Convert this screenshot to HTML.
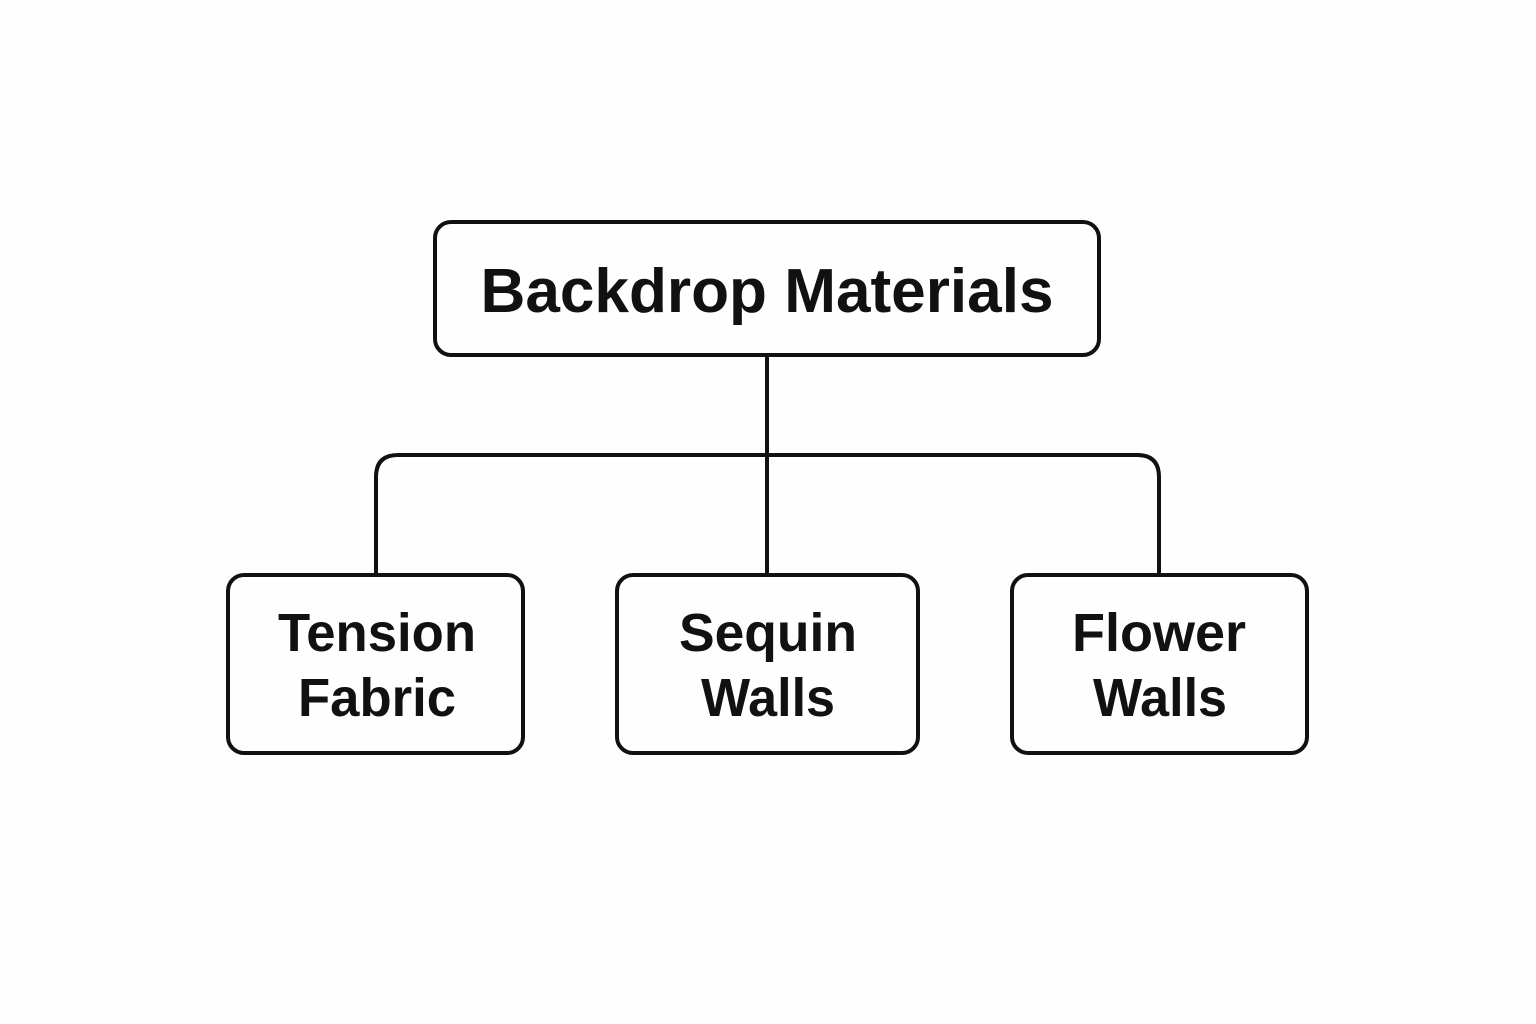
<!DOCTYPE html>
<html><head><meta charset="utf-8"><style>
html,body{margin:0;padding:0;background:#fff;}
svg{display:block;}
text{font-family:"Liberation Sans",sans-serif;font-weight:bold;fill:#111;text-anchor:middle;}
</style></head><body>
<svg width="1536" height="1024" viewBox="0 0 1536 1024">
<rect width="1536" height="1024" fill="#fefefe"/>
<g fill="none" stroke="#111" stroke-width="4" stroke-linejoin="round">
<rect x="435" y="222" width="664" height="133" rx="16"/>
<rect x="228" y="575" width="295" height="178" rx="16"/>
<rect x="617" y="575" width="301" height="178" rx="16"/>
<rect x="1012" y="575" width="295" height="178" rx="16"/>
<line x1="767" y1="355" x2="767" y2="575"/>
<path d="M376 575 V477 Q376 455 398 455 H1137 Q1159 455 1159 477 V575"/>
</g>
<text x="767" y="312" font-size="62" textLength="573" lengthAdjust="spacingAndGlyphs">Backdrop Materials</text>
<text x="377" y="651" font-size="54" textLength="198" lengthAdjust="spacingAndGlyphs">Tension</text>
<text x="377" y="716" font-size="54" textLength="158" lengthAdjust="spacingAndGlyphs">Fabric</text>
<text x="768" y="651" font-size="54" textLength="178" lengthAdjust="spacingAndGlyphs">Sequin</text>
<text x="768" y="716" font-size="54" textLength="134" lengthAdjust="spacingAndGlyphs">Walls</text>
<text x="1159" y="651" font-size="54" textLength="174" lengthAdjust="spacingAndGlyphs">Flower</text>
<text x="1160" y="716" font-size="54" textLength="134" lengthAdjust="spacingAndGlyphs">Walls</text>
</svg>
</body></html>
